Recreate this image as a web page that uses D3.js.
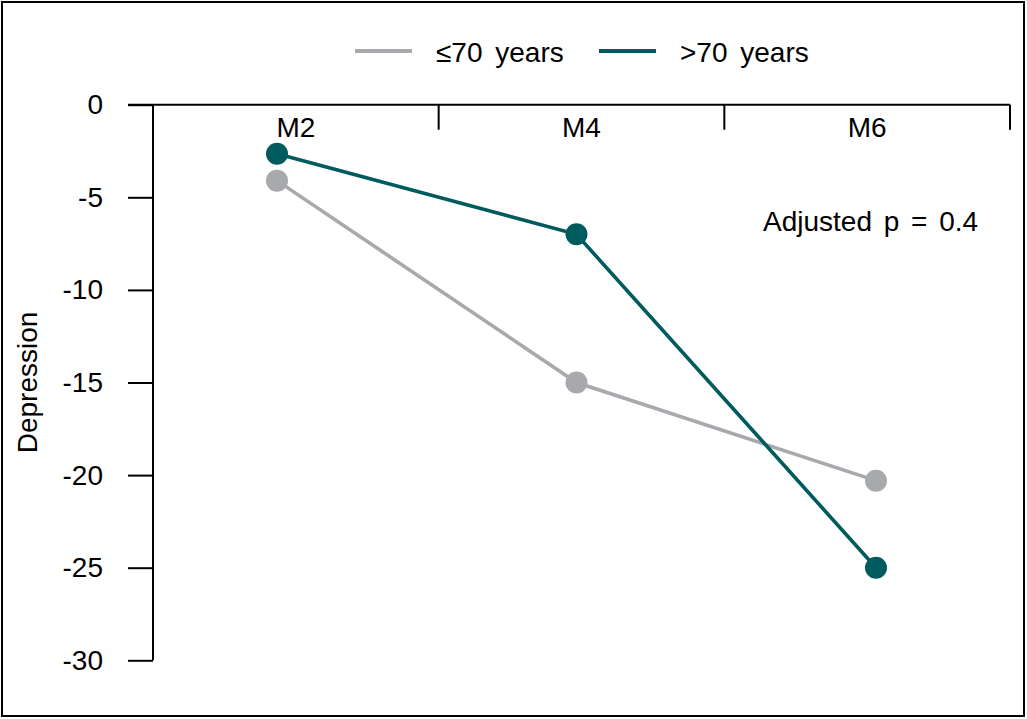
<!DOCTYPE html>
<html><head><meta charset="utf-8">
<script src="https://cdn.jsdelivr.net/npm/d3@7/dist/d3.min.js"></script>
<style>
html,body{margin:0;padding:0;background:#fff;}
text{font-family:"Liberation Sans",Arial,sans-serif;fill:#000;}
</style></head>
<body><svg id="c" width="1027" height="719"></svg>
<script>
const categories = ["M2","M4","M6"];
const months = [2,4,6];
const seriesNames = ["\u226470 years", ">70 years"];
const youngValues = [-4.1, -15.0, -20.3];
const oldValues = [-2.65, -7.0, -25.0];
const yTicks = [0,-5,-10,-15,-20,-25,-30];
const annotation = "Adjusted p = 0.4";
const yLabel = "Depression";

(function(){
const colors = ["#a8a9ad", "#005b5e"];
const svg = d3.select("#c");
const fs = 28;

svg.append("rect").attr("x",2).attr("y",2).attr("width",1022).attr("height",714)
  .attr("fill","none").attr("stroke","#000").attr("stroke-width",2);

const y = d3.scaleLinear().domain([0,-30]).range([104.7,660.3]);
const xBand = d3.scaleBand().domain(categories).range([153,1010]);
const xPt = d3.scaleLinear().domain([2,6]).range([277,876]);

// Y axis
const ya = svg.append("g").attr("transform","translate(153,0)")
  .call(d3.axisLeft(y).tickValues(yTicks).tickSize(25).tickPadding(25).tickFormat(d=>String(d)));
ya.selectAll("path,line").attr("stroke","#000").attr("stroke-width",2);
ya.select(".domain").attr("d", `M0,${y(0)}V${y(-30)}`);
ya.selectAll("text").style("font-size",fs+"px").style("font-family","Liberation Sans, Arial, sans-serif").attr("fill","#000");

// top axis
const topAxis = svg.append("g");
topAxis.append("line").attr("x1",128).attr("x2",xBand.range()[1]).attr("y1",y(0)).attr("y2",y(0))
  .attr("stroke","#000").attr("stroke-width",2);
topAxis.selectAll("line.tk").data(categories).enter().append("line").attr("class","tk")
  .attr("x1",d=>xBand(d)+xBand.bandwidth()).attr("x2",d=>xBand(d)+xBand.bandwidth())
  .attr("y1",y(0)).attr("y2",y(0)+25).attr("stroke","#000").attr("stroke-width",2);
topAxis.selectAll("text").data(categories).enter().append("text")
  .attr("x",d=>xBand(d)+xBand.bandwidth()/2).attr("y",y(0)+32.5)
  .attr("text-anchor","middle").style("font-size",fs+"px").text(d=>d);

// y label
svg.append("text").attr("transform",`translate(37,${(y(0)+y(-30))/2}) rotate(-90)`)
  .attr("text-anchor","middle").style("font-size",fs+"px").text(yLabel);

// series
const series = [youngValues, oldValues];
const line = d3.line().x((d,i)=>xPt(months[i])).y(d=>y(d));
series.forEach((vals,si)=>{
  svg.append("path").attr("d",line(vals)).attr("fill","none")
    .attr("stroke",colors[si]).attr("stroke-width",3.6);
  svg.selectAll(null).data(vals).enter().append("circle")
    .attr("cx",(d,i)=>xPt(months[i])).attr("cy",d=>y(d)).attr("r",11)
    .attr("fill",colors[si]);
});

// annotation
svg.append("text").attr("x",763).attr("y",231).style("font-size",fs+"px")
  .style("word-spacing","4px").text(annotation);

// legend
const legX = [355, 599];
seriesNames.forEach((n,i)=>{
  svg.append("line").attr("x1",legX[i]).attr("x2",legX[i]+57).attr("y1",51).attr("y2",51)
    .attr("stroke",colors[i]).attr("stroke-width",4);
  svg.append("text").attr("x",legX[i]+81).attr("y",61.5).style("font-size",fs+"px")
    .style("word-spacing","5px").text(n);
});
})();
</script></body></html>
